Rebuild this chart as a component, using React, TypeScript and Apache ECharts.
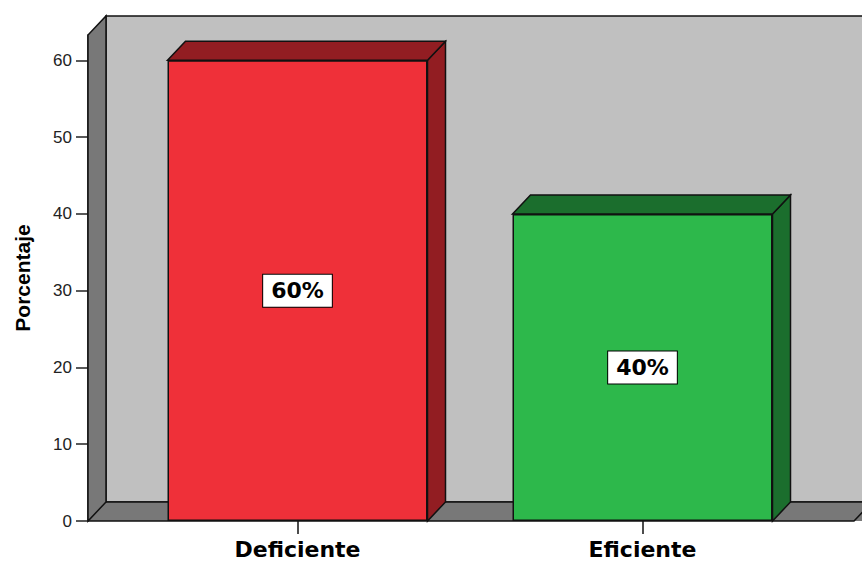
import React, { useEffect, useRef } from "react";
import * as echarts from "echarts";

// Chart data
const categories = ["Deficiente", "Eficiente"];
const percentages = [60, 40];
const yTicks = [0, 10, 20, 30, 40, 50, 60];
const yMax = 63.3;

// Styling
const barFront = ["#EF3039", "#2DB84B"];
const barShade = ["#921D22", "#1B6E2D"];
const WALL_BACK = "#C0C0C0";
const WALL_SIDE = "#787878";
const EDGE = "#111111";
const BAR_WIDTH = 260;
const DEPTH_X = 18;
const DEPTH_Y = -19;
const Y_AXIS_OFFSET = 37;

export default function App() {
  const ref = useRef<HTMLDivElement>(null);

  useEffect(() => {
    if (!ref.current) return;
    const chart = echarts.init(ref.current, null, { renderer: "svg" });

    const edgeStyle = { stroke: EDGE, lineWidth: 1.5 };

    const option: any = {
      animation: false,
      backgroundColor: "#ffffff",
      grid: { left: 125, right: 47, top: 35, bottom: 40, containLabel: false },
      xAxis: {
        type: "category",
        data: categories,
        boundaryGap: true,
        axisLine: { show: false },
        axisTick: {
          show: true,
          alignWithLabel: true,
          length: 13,
          lineStyle: { color: EDGE, width: 1.5 },
        },
        axisLabel: {
          margin: 17,
          fontFamily: "DejaVu Sans",
          fontWeight: "bold",
          fontSize: 22,
          color: "#000",
        },
      },
      yAxis: {
        type: "value",
        min: 0,
        max: yMax,
        offset: Y_AXIS_OFFSET,
        name: "Porcentaje",
        nameLocation: "middle",
        nameRotate: 90,
        nameGap: 55,
        nameTextStyle: {
          fontFamily: "Liberation Sans",
          fontWeight: "bold",
          fontSize: 21,
          color: "#000",
        },
        splitLine: { show: false },
        axisLine: { show: true, lineStyle: { color: EDGE, width: 1.5 } },
        axisTick: {
          show: true,
          length: 12,
          customValues: yTicks,
          lineStyle: { color: "#222", width: 1.5 },
        },
        axisLabel: {
          margin: 16,
          customValues: yTicks,
          fontFamily: "Liberation Sans",
          fontSize: 17,
          color: "#222",
        },
      },
      series: [
        {
          // back wall, left wall and floor
          type: "custom",
          z: 1,
          clip: false,
          silent: true,
          data: [[0]],
          renderItem: (params: any, api: any) => {
            const cs = params.coordSys;
            const left = cs.x - Y_AXIS_OFFSET;
            const top = cs.y;
            const bottom = cs.y + cs.height;
            const right = cs.x + cs.width + 39;
            const bx = left + DEPTH_X;
            const bTop = top + DEPTH_Y;
            const bBottom = bottom + DEPTH_Y;
            const farRight = right + DEPTH_X + 30;
            return {
              type: "group",
              children: [
                {
                  type: "polygon",
                  shape: {
                    points: [
                      [bx, bTop],
                      [farRight, bTop],
                      [farRight, bBottom],
                      [bx, bBottom],
                    ],
                  },
                  style: { fill: WALL_BACK, ...edgeStyle },
                },
                {
                  type: "polygon",
                  shape: {
                    points: [
                      [left, bottom],
                      [bx, bBottom],
                      [right + DEPTH_X + 30, bBottom],
                      [right + 30, bottom],
                    ],
                  },
                  style: { fill: WALL_SIDE, stroke: "none" },
                },
                {
                  type: "polyline",
                  shape: {
                    points: [
                      [bx, bBottom],
                      [right + DEPTH_X, bBottom],
                      [right, bottom],
                      [left, bottom],
                    ],
                  },
                  style: { fill: "none", ...edgeStyle },
                },
                {
                  type: "polygon",
                  shape: {
                    points: [
                      [left, bottom],
                      [left, top],
                      [bx, bTop],
                      [bx, bBottom],
                    ],
                  },
                  style: { fill: WALL_SIDE, ...edgeStyle },
                },
              ],
            };
          },
        },
        {
          // top and side faces of each bar
          type: "custom",
          z: 2,
          clip: false,
          silent: true,
          data: percentages.map((v, i) => [i, v]),
          renderItem: (params: any, api: any) => {
            const i = api.value(0);
            const topPt = api.coord([i, api.value(1)]);
            const basePt = api.coord([i, 0]);
            const x0 = topPt[0] - BAR_WIDTH / 2;
            const x1 = topPt[0] + BAR_WIDTH / 2;
            const yt = topPt[1];
            const yb = basePt[1];
            const shade = barShade[params.dataIndex];
            return {
              type: "group",
              children: [
                {
                  type: "polygon",
                  shape: {
                    points: [
                      [x1, yt],
                      [x1 + DEPTH_X, yt + DEPTH_Y],
                      [x1 + DEPTH_X, yb + DEPTH_Y],
                      [x1, yb],
                    ],
                  },
                  style: { fill: shade, ...edgeStyle },
                },
                {
                  type: "polygon",
                  shape: {
                    points: [
                      [x0, yt],
                      [x0 + DEPTH_X, yt + DEPTH_Y],
                      [x1 + DEPTH_X, yt + DEPTH_Y],
                      [x1, yt],
                    ],
                  },
                  style: { fill: shade, ...edgeStyle },
                },
              ],
            };
          },
        },
        {
          // front faces with value labels
          type: "bar",
          z: 3,
          barWidth: BAR_WIDTH,
          data: percentages.map((v, i) => ({
            value: v,
            itemStyle: {
              color: barFront[i],
              borderColor: EDGE,
              borderWidth: 1.5,
            },
          })),
          label: {
            show: true,
            position: "inside",
            formatter: "{c}%",
            fontFamily: "DejaVu Sans",
            fontWeight: "bold",
            fontSize: 22,
            color: "#000",
            backgroundColor: "#ffffff",
            borderColor: "#000",
            borderWidth: 1,
            padding: [6, 8, 4, 8],
          },
        },
      ],
    };

    chart.setOption(option);
    return () => chart.dispose();
  }, []);

  return (
    <div
      ref={ref}
      style={{ position: "fixed", left: 0, top: 0, width: 862, height: 561 }}
    />
  );
}
